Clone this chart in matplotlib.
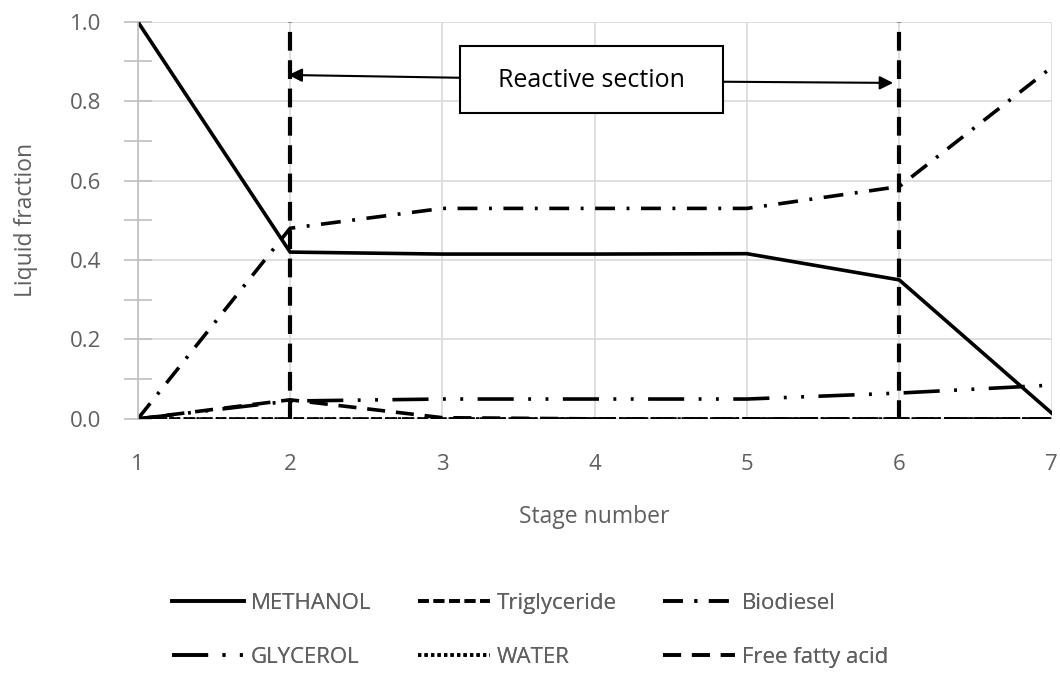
import matplotlib.pyplot as plt
from matplotlib.ticker import MultipleLocator
from matplotlib.patches import Rectangle

plt.rcParams['font.family'] = ['Open Sans', 'DejaVu Sans']

stages = [1, 2, 3, 4, 5, 6, 7]
methanol = [1.0, 0.42, 0.415, 0.415, 0.416, 0.35, 0.015]
triglyceride = [0.0, 0.0, 0.0, 0.0, 0.0, 0.0, 0.0]
biodiesel = [0.0, 0.48, 0.53, 0.53, 0.53, 0.585, 0.885]
glycerol = [0.0, 0.045, 0.05, 0.05, 0.05, 0.065, 0.085]
water = [0.0, 0.0, 0.0, 0.0, 0.0, 0.0, 0.0]
ffa = [0.0, 0.048, 0.003, 0.0, 0.0, 0.0, 0.0]
reactive_bounds = [2, 6]

fig = plt.figure(figsize=(10.6, 6.8), dpi=100)
ax = fig.add_axes([0.130, 0.384, 0.862, 0.584])

grey = '#5f5f5f'
lw = 2.6
h_meth, = ax.plot(stages, methanol, color='black', lw=lw, linestyle='-', label='METHANOL')
h_tri, = ax.plot(stages, triglyceride, color='black', lw=lw, linestyle=(0, (3, 1.3)), label='Triglyceride')
h_bio, = ax.plot(stages, biodiesel, color='black', lw=lw, linestyle=(0, (5.5, 3.2, 0.8, 3.2)), label='Biodiesel')
h_gly, = ax.plot(stages, glycerol, color='black', lw=lw, linestyle=(0, (10, 4, 0.8, 4, 0.8, 4)), label='GLYCEROL')
h_wat, = ax.plot(stages, water, color='black', lw=lw, linestyle=(0, (0.9, 0.9)), label='WATER')
h_ffa, = ax.plot(stages, ffa, color='black', lw=lw, linestyle=(0, (5, 3)), label='Free fatty acid')

for xb in reactive_bounds:
    ax.plot([xb, xb], [0, 1], color='black', lw=3, linestyle=(0, (4.5, 2.3)))

# Reactive section box with arrows
ax.add_patch(Rectangle((3.114, 0.771), 4.841 - 3.114, 0.940 - 0.771, fc='white', ec='black',
                       lw=1.5, zorder=5))
ax.text(3.978, 0.852, 'Reactive section', ha='center', va='center', fontsize=18,
        color='black', zorder=6)
ax.annotate('', xy=(1.99, 0.866), xytext=(3.114, 0.859),
            arrowprops=dict(arrowstyle='-|>', color='black', lw=1.5, mutation_scale=20,
                            shrinkA=0, shrinkB=0))
ax.annotate('', xy=(5.96, 0.846), xytext=(4.841, 0.849),
            arrowprops=dict(arrowstyle='-|>', color='black', lw=1.5, mutation_scale=20,
                            shrinkA=0, shrinkB=0))

ax.set_xlim(1, 7)
ax.set_ylim(0, 1.0)
ax.set_xticks(stages)
ax.yaxis.set_major_locator(MultipleLocator(0.2))
ax.yaxis.set_minor_locator(MultipleLocator(0.1))
ax.set_yticklabels([f'{v:.1f}' for v in ax.get_yticks()])
ax.grid(True, which='major', color='#d9d9d9', lw=1.2)
ax.set_axisbelow(True)
for s in ['top', 'right', 'bottom']:
    ax.spines[s].set_visible(False)
ax.spines['left'].set_color('#bfbfbf')
ax.spines['left'].set_linewidth(1.2)
ax.tick_params(axis='y', which='both', direction='inout', length=20, color='#bfbfbf',
               width=1.2, labelsize=16, labelcolor=grey, pad=16)
ax.tick_params(axis='x', length=0, labelsize=16, labelcolor=grey, pad=25)

ax.set_xlabel('Stage number', fontsize=16.5, color=grey, labelpad=22)
ax.set_ylabel('Liquid fraction', fontsize=16.5, color=grey)
ax.yaxis.set_label_coords(-0.109, 0.5)

columns = [([h_meth, h_gly], 172), ([h_tri, h_wat], 418), ([h_bio, h_ffa], 663)]
for handles, xpix in columns:
    leg = fig.legend(handles=handles, loc='upper left', bbox_to_anchor=(xpix / 1060, 0.128),
                     frameon=False, fontsize=16, handlelength=3.25, handletextpad=0.3,
                     labelspacing=1.48, labelcolor=grey, borderpad=0, borderaxespad=0)
    fig.add_artist(leg)

fig.savefig('out.png', dpi=100)
